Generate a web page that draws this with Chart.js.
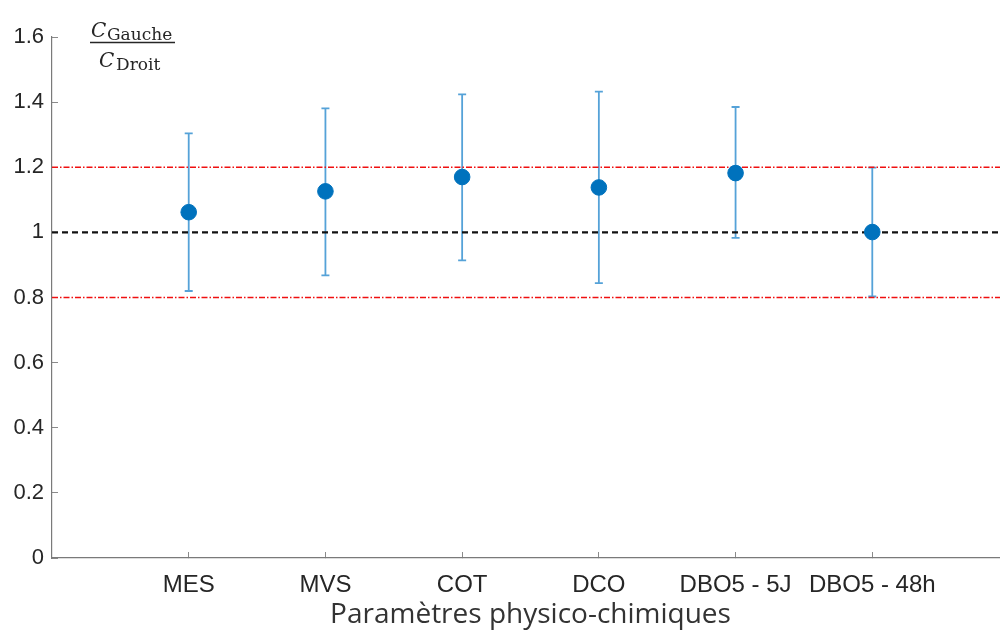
<!DOCTYPE html>
<html>
<head>
<title>Rapport Gauche / Droit</title>
<style>
  html, body { margin: 0; padding: 0; background: #fff; overflow: hidden; }
  canvas { display: block; }
</style>
</head>
<body>
<canvas id="ratioChart" width="1009" height="637"></canvas>

<script src="https://cdn.jsdelivr.net/npm/chart.js"></script>
<script>
// values
const categories = ['MES', 'MVS', 'COT', 'DCO', 'DBO5 - 5J', 'DBO5 - 48h'];
const ratio = [1.062, 1.126, 1.170, 1.138, 1.182, 1.001];
const upper = [1.304, 1.381, 1.424, 1.432, 1.385, 1.199];
const lower = [0.820, 0.868, 0.914, 0.844, 0.983, 0.803];
const yTicks = [0, 0.2, 0.4, 0.6, 0.8, 1, 1.2, 1.4, 1.6];
const limitHigh = 1.2, limitLow = 0.8, reference = 1;

const xMax = categories.length + 1;
const points = ratio.map((v, i) => ({ x: i + 1, y: v }));
const hline = v => [{ x: 0, y: v }, { x: xMax, y: v }];

// vertical error bars with caps
const errorBars = {
    id: 'errorBars',
    beforeDatasetsDraw(chart) {
        const { ctx, scales: { x, y } } = chart;
        ctx.save();
        ctx.strokeStyle = '#55a2d8';
        ctx.lineWidth = 1.8;
        ratio.forEach((v, i) => {
            const px = x.getPixelForValue(i + 1);
            const top = y.getPixelForValue(upper[i]);
            const bot = y.getPixelForValue(lower[i]);
            ctx.beginPath();
            ctx.moveTo(px, top); ctx.lineTo(px, bot);
            ctx.moveTo(px - 4, top); ctx.lineTo(px + 4, top);
            ctx.moveTo(px - 4, bot); ctx.lineTo(px + 4, bot);
            ctx.stroke();
        });
        ctx.restore();
    }
};

// y label as a fraction C_Gauche / C_Droit
const fracLabel = {
    id: 'fracLabel',
    afterDraw(chart) {
        const ctx = chart.ctx;
        ctx.save();
        ctx.fillStyle = '#262626';
        ctx.strokeStyle = '#262626';
        ctx.textBaseline = 'alphabetic';
        ctx.textAlign = 'left';
        ctx.font = 'italic 20px "DejaVu Serif"';
        ctx.fillText('C', 91, 37);
        ctx.font = '17px "DejaVu Serif"';
        ctx.fillText('Gauche', 107, 40);
        ctx.lineWidth = 1.3;
        ctx.beginPath(); ctx.moveTo(90, 42.5); ctx.lineTo(175, 42.5); ctx.stroke();
        ctx.font = 'italic 20px "DejaVu Serif"';
        ctx.fillText('C', 99, 67);
        ctx.font = '17px "DejaVu Serif"';
        ctx.fillText('Droit', 116, 70);
        ctx.restore();
    }
};

new Chart(document.getElementById('ratioChart'), {
    type: 'scatter',
    data: {
        datasets: [
            { data: points, backgroundColor: '#0072bd', borderColor: '#0072bd', pointRadius: 7.8, pointHoverRadius: 7.8, order: 0 },
            { type: 'line', data: hline(reference), borderColor: '#111', borderWidth: 2.2, borderDash: [6, 4], pointRadius: 0, order: 1 },
            { type: 'line', data: hline(limitHigh), borderColor: '#f01010', borderWidth: 1.3, borderDash: [6, 2, 1.5, 2], pointRadius: 0, order: 1 },
            { type: 'line', data: hline(limitLow), borderColor: '#f01010', borderWidth: 1.3, borderDash: [6, 2, 1.5, 2], pointRadius: 0, order: 1 }
        ]
    },
    options: {
        responsive: false,
        animation: false,
        layout: { autoPadding: false, padding: { top: 37, left: 0, right: 0, bottom: 0 } },
        plugins: { legend: { display: false }, tooltip: { enabled: false } },
        scales: {
            x: {
                type: 'linear', min: 0, max: xMax,
                afterBuildTicks: s => { s.ticks = categories.map((c, i) => ({ value: i + 1 })); },
                afterFit: s => { s.height = 79; s.paddingLeft = 0; s.paddingRight = 0; },
                ticks: {
                    callback: v => categories[v - 1],
                    color: '#262626', font: { family: 'Liberation Sans', size: 24 },
                    padding: 19, maxRotation: 0, autoSkip: false
                },
                grid: { drawOnChartArea: false, tickLength: -6, color: '#8a8a8a' },
                border: { color: '#7a7a7a', width: 1.2 },
                title: {
                    display: true, text: 'Paramètres physico-chimiques', color: '#333',
                    font: { family: 'Open Sans', size: 28, lineHeight: 1.2 }, padding: { top: 0, bottom: 5 }
                }
            },
            y: {
                min: 0, max: 1.6,
                afterBuildTicks: s => { s.ticks = yTicks.map(v => ({ value: v })); },
                afterFit: s => { s.width = 52; s.paddingTop = 0; s.paddingBottom = 0; },
                ticks: {
                    callback: v => String(Math.round(v * 10) / 10),
                    color: '#262626', font: { family: 'Liberation Sans', size: 22 }, padding: 14
                },
                grid: { drawOnChartArea: false, tickLength: -6, color: '#8a8a8a' },
                border: { color: '#7a7a7a', width: 1.2 }
            }
        }
    },
    plugins: [errorBars, fracLabel]
});
</script>
</body>
</html>
